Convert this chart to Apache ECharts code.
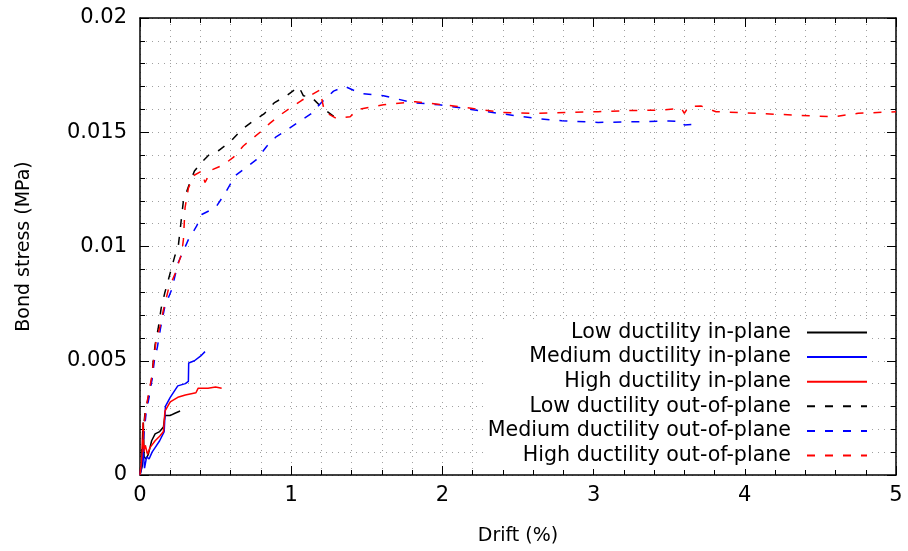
<!DOCTYPE html>
<html>
<head>
<meta charset="utf-8">
<script src="https://cdn.jsdelivr.net/npm/echarts@6/dist/echarts.min.js"></script>
<style>html,body{margin:0;padding:0;background:#fff}#c{width:908px;height:551px}</style>
</head>
<body>
<div id="c"></div>
<script>
// Series names
var seriesNames = ['Low ductility in-plane', 'Medium ductility in-plane', 'High ductility in-plane',
  'Low ductility out-of-plane', 'Medium ductility out-of-plane', 'High ductility out-of-plane'];

// Low ductility in-plane
var lowInX = [0, 0.015, 0.022, 0.027, 0.04, 0.055, 0.077, 0.1, 0.13, 0.155, 0.165, 0.198, 0.231, 0.265];
var lowInY = [0, 0.0004, 0.0023, 0.0008, 0.0007, 0.0009, 0.0015, 0.0018, 0.0019, 0.0021, 0.0026, 0.0026, 0.0027, 0.0028];

// Medium ductility in-plane
var medInX = [0, 0.01, 0.02, 0.03, 0.044, 0.06, 0.08, 0.1, 0.13, 0.16, 0.168, 0.2, 0.25, 0.3, 0.32, 0.322, 0.36, 0.4, 0.43];
var medInY = [0, 0.0003, 0.0011, 0.0003, 0.0008, 0.0007, 0.0010, 0.0012, 0.0015, 0.0019, 0.0030, 0.0034, 0.0039, 0.0040, 0.0041, 0.0049, 0.0050, 0.0052, 0.0054];

// High ductility in-plane
var highInX = [0, 0.01, 0.02, 0.025, 0.035, 0.05, 0.066, 0.1, 0.13, 0.155, 0.165, 0.2, 0.25, 0.3, 0.37, 0.385, 0.45, 0.5, 0.54];
var highInY = [0, 0.0006, 0.0023, 0.0010, 0.0013, 0.0009, 0.0012, 0.0015, 0.0017, 0.0019, 0.0028, 0.0032, 0.0034, 0.0035, 0.0036, 0.0038, 0.0038, 0.00385, 0.0038];

// Low ductility out-of-plane
var lowOutX = [0, 0.01, 0.02, 0.033, 0.055, 0.077, 0.088, 0.1, 0.12, 0.14, 0.165, 0.198, 0.231, 0.253, 0.265, 0.287, 0.33, 0.36, 0.41, 0.47, 0.52, 0.6, 0.67, 0.75, 0.82, 0.89, 0.97, 1.05, 1.08, 1.13, 1.2, 1.3];
var lowOutY = [0, 0.0008, 0.0018, 0.0027, 0.0034, 0.0042, 0.005, 0.0057, 0.0064, 0.0073, 0.008, 0.0088, 0.0096, 0.01, 0.0107, 0.012, 0.0128, 0.0133, 0.0137, 0.0141, 0.0142, 0.0146, 0.0151, 0.0155, 0.0158, 0.0163, 0.0166, 0.0170, 0.0166, 0.01656, 0.0161, 0.0156];

// Medium ductility out-of-plane
var medOutX = [0, 0.015, 0.025, 0.04, 0.06, 0.08, 0.095, 0.115, 0.135, 0.165, 0.209, 0.253, 0.32, 0.375, 0.408, 0.5, 0.56, 0.63, 0.69, 0.77, 0.84, 0.9, 0.97, 1.06, 1.13, 1.2, 1.28, 1.356, 1.46, 1.61, 1.8, 1.98, 2.19, 2.4, 2.63, 2.79, 3.03, 3.29, 3.5, 3.59, 3.6, 3.71];
var medOutY = [0, 0.0008, 0.0017, 0.0027, 0.0034, 0.0042, 0.005, 0.0056, 0.0064, 0.0074, 0.0081, 0.0093, 0.0103, 0.0109, 0.0114, 0.0117, 0.0123, 0.0131, 0.0134, 0.0138, 0.0144, 0.0148, 0.0151, 0.0155, 0.0158, 0.0163, 0.0168, 0.0170, 0.0167, 0.0166, 0.0163, 0.0162, 0.0160, 0.0158, 0.0156, 0.0155, 0.01543, 0.01546, 0.01549, 0.01546, 0.01532, 0.01536];

// High ductility out-of-plane
var highOutX = [0, 0.012, 0.022, 0.035, 0.055, 0.075, 0.09, 0.105, 0.132, 0.154, 0.187, 0.231, 0.276, 0.287, 0.298, 0.32, 0.353, 0.408, 0.43, 0.474, 0.551, 0.617, 0.683, 0.794, 0.86, 0.926, 1.003, 1.07, 1.124, 1.19, 1.22, 1.3, 1.39, 1.44, 1.61, 1.82, 2.01, 2.19, 2.4, 2.61, 2.82, 3.03, 3.24, 3.45, 3.58, 3.6, 3.63, 3.71, 3.81, 4.07, 4.33, 4.59, 4.75, 5.0];
var highOutY = [0, 0.0008, 0.0018, 0.0027, 0.0035, 0.0042, 0.005, 0.0058, 0.0065, 0.0072, 0.0081, 0.0088, 0.0097, 0.0103, 0.0117, 0.01255, 0.0131, 0.0133, 0.0128, 0.01335, 0.01357, 0.0139, 0.0144, 0.0150, 0.0154, 0.01575, 0.0161, 0.0164, 0.0166, 0.01685, 0.0159, 0.0156, 0.01568, 0.0160, 0.0162, 0.01634, 0.0162, 0.01605, 0.01586, 0.01583, 0.01586, 0.0159, 0.01595, 0.01597, 0.01605, 0.01583, 0.01612, 0.01615, 0.0159, 0.01583, 0.01575, 0.01568, 0.01583, 0.0159];

// Axis ticks
var xTicks = [0, 1, 2, 3, 4, 5];
var yTicks = [0, 0.005, 0.01, 0.015, 0.02];

function zip(xs, ys) {
  var n = Math.min(xs.length, ys.length), out = [];
  for (var i = 0; i < n; i++) out.push([xs[i], ys[i]]);
  return out;
}

var FONT = 'DejaVu Sans';
var FS = 21;
var seriesData = [zip(lowInX, lowInY), zip(medInX, medInY), zip(highInX, highInY),
  zip(lowOutX, lowOutY), zip(medOutX, medOutY), zip(highOutX, highOutY)];
var colors = ['#000000', '#0000ff', '#ff0000', '#000000', '#0000ff', '#ff0000'];
var dashed = [false, false, false, true, true, true];

var series = seriesData.map(function (d, i) {
  return {
    name: seriesNames[i],
    type: 'line',
    data: d,
    xAxisIndex: 0,
    yAxisIndex: 0,
    symbol: 'none',
    showSymbol: false,
    animation: false,
    z: 3 + i,
    lineStyle: { color: colors[i], width: 1.5, type: dashed[i] ? [8, 10] : 'solid' },
    itemStyle: { color: colors[i] }
  };
});

var gridLine = { show: true, lineStyle: { color: '#a0a0a0', type: [1, 5], width: 1 } };

function xAx(pos, showLabel) {
  return {
    type: 'value', position: pos, min: xTicks[0], max: xTicks[xTicks.length - 1], interval: 1,
    axisLine: { show: true, onZero: false, lineStyle: { color: '#000', width: 1.5 } },
    axisTick: { show: true, inside: true, length: 9, lineStyle: { color: '#000', width: 1 } },
    minorTick: { show: true, splitNumber: 5, length: 5, lineStyle: { color: '#000', width: 1 } },
    splitLine: showLabel ? gridLine : { show: false },
    minorSplitLine: showLabel ? gridLine : { show: false },
    axisLabel: { show: showLabel, color: '#000', fontFamily: FONT, fontSize: FS, margin: 10 },
    name: showLabel ? 'Drift (%)' : '', nameLocation: 'middle', nameGap: 52,
    nameTextStyle: { color: '#000', fontFamily: FONT, fontSize: 19 }
  };
}
function yAx(pos, showLabel) {
  return {
    type: 'value', position: pos, min: yTicks[0], max: yTicks[yTicks.length - 1], interval: 0.005,
    axisLine: { show: true, onZero: false, lineStyle: { color: '#000', width: 1.5 } },
    axisTick: { show: true, inside: true, length: 9, lineStyle: { color: '#000', width: 1 } },
    minorTick: { show: true, splitNumber: 5, length: 5, lineStyle: { color: '#000', width: 1 } },
    splitLine: showLabel ? gridLine : { show: false },
    minorSplitLine: showLabel ? gridLine : { show: false },
    axisLabel: { show: showLabel, color: '#000', fontFamily: FONT, fontSize: FS, margin: 13 },
    name: showLabel ? 'Bond stress (MPa)' : '', nameLocation: 'middle', nameGap: 106,
    nameTextStyle: { color: '#000', fontFamily: FONT, fontSize: 19 }
  };
}

var chart = echarts.init(document.getElementById('c'), null, { renderer: 'canvas' });
chart.setOption({
  animation: false,
  backgroundColor: '#fff',
  grid: { left: 140, right: 12, top: 18, bottom: 76, containLabel: false },
  xAxis: [xAx('bottom', true), xAx('top', false)],
  yAxis: [yAx('left', true), yAx('right', false)],
  legend: {
    orient: 'vertical', right: 36, top: 319, align: 'right',
    itemWidth: 60, itemHeight: 14, itemGap: 3.6,
    backgroundColor: '#fff', padding: [3, 4, 3, 4],
    itemStyle: { opacity: 0 },
    textStyle: { color: '#000', fontFamily: FONT, fontSize: 20.6, padding: [0, 11, 0, 0] },
    data: seriesNames
  },
  series: series
});
</script>
</body>
</html>
